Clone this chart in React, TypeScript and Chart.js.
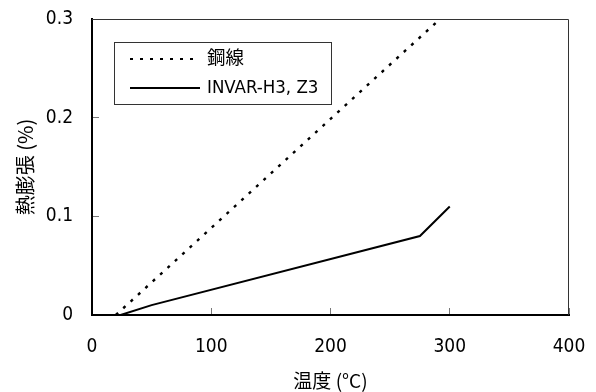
import React, { useEffect, useRef } from "react";
import { Chart, registerables } from "chart.js";

Chart.register(...registerables);

const steelLabel = "鋼線";
const invarLabel = "INVAR-H3, Z3";
const steelTemps = [20, 290];
const steelExpansion = [0, 0.298];
const invarTemps = [24, 50, 275, 300];
const invarExpansion = [0, 0.01, 0.08, 0.11];
const xTitle = "温度 (°C)";
const yTitle = "熱膨張 (%)";

const NARROW = "'Liberation Sans Narrow', 'DejaVu Sans Condensed', 'Arial Narrow', 'Noto Sans CJK JP', sans-serif";
const CJK = "'Noto Sans CJK JP', sans-serif";

export default function App() {
  const ref = useRef<HTMLCanvasElement | null>(null);
  useEffect(() => {
    const canvas = ref.current;
    if (!canvas) return;
    const frame = {
      id: "frame",
      beforeDatasetsDraw(chart: any) {
        const { ctx, chartArea: a } = chart;
        ctx.save();
        ctx.strokeStyle = "#333";
        ctx.lineWidth = 1;
        ctx.beginPath();
        ctx.moveTo(a.left, a.top + 0.5);
        ctx.lineTo(a.right - 0.5, a.top + 0.5);
        ctx.lineTo(a.right - 0.5, a.bottom);
        ctx.stroke();
        ctx.restore();
      },
    };
    const legendBox = {
      id: "legendBox",
      afterDatasetsDraw(chart: any) {
        const { ctx } = chart;
        const x0 = 114, y0 = 42, w = 217, h = 62;
        ctx.save();
        ctx.fillStyle = "#fff";
        ctx.fillRect(x0, y0, w, h);
        ctx.strokeStyle = "#333";
        ctx.lineWidth = 1;
        ctx.strokeRect(x0 + 0.5, y0 + 0.5, w, h);
        const rows = [
          { label: chart.data.datasets[0].label, y: 59, dash: [3, 7], lw: 2.2 },
          { label: chart.data.datasets[1].label, y: 88, dash: [], lw: 2 },
        ];
        rows.forEach((r) => {
          ctx.strokeStyle = "#000";
          ctx.lineWidth = r.lw;
          ctx.setLineDash(r.dash);
          ctx.beginPath();
          ctx.moveTo(130, r.y);
          ctx.lineTo(200, r.y);
          ctx.stroke();
          ctx.setLineDash([]);
          ctx.fillStyle = "#000";
          ctx.font = `18.5px ${NARROW}`;
          ctx.textBaseline = "middle";
          ctx.textAlign = "left";
          ctx.fillText(r.label, 207, r.y);
        });
        ctx.restore();
      },
    };
    const chart = new Chart(canvas, {
      type: "line",
      data: {
        datasets: [
          {
            label: steelLabel,
            data: steelTemps.map((t, i) => ({ x: t, y: steelExpansion[i] })),
            borderColor: "#000",
            borderWidth: 2.4,
            borderDash: [3, 7],
            pointRadius: 0,
            fill: false,
            tension: 0,
          },
          {
            label: invarLabel,
            data: invarTemps.map((t, i) => ({ x: t, y: invarExpansion[i] })),
            borderColor: "#000",
            borderWidth: 2,
            pointRadius: 0,
            fill: false,
            tension: 0,
          },
        ],
      },
      options: {
        responsive: false,
        animation: false,
        layout: { padding: { left: 0, top: 19, right: 27, bottom: 0 } },
        plugins: { legend: { display: false }, tooltip: { enabled: false } },
        scales: {
          x: {
            type: "linear",
            min: 0,
            max: 400,
            afterFit: (s: any) => {
              s.height = 77;
              s.paddingLeft = 0;
              s.paddingRight = 0;
              s.paddingTop = 0;
              s.paddingBottom = 0;
            },
            ticks: {
              stepSize: 100,
              color: "#000",
              padding: 28,
              font: { size: 19, family: NARROW },
              maxRotation: 0,
            },
            grid: { drawOnChartArea: false, drawTicks: true, tickLength: -7, color: "#777", lineWidth: 1 },
            border: { display: true, color: "#000", width: 2 },
            title: {
              display: true,
              text: xTitle,
              color: "#000",
              font: { size: 19, family: CJK },
              padding: { top: 0, bottom: 0 },
            },
          },
          y: {
            type: "linear",
            min: 0,
            max: 0.3,
            afterFit: (s: any) => {
              s.width = 92;
              s.paddingLeft = 0;
              s.paddingRight = 0;
              s.paddingTop = 0;
              s.paddingBottom = 0;
            },
            ticks: {
              stepSize: 0.1,
              color: "#000",
              padding: 26,
              font: { size: 19, family: NARROW },
              callback: (v: any) => (Math.abs(v) < 1e-9 ? "0" : Number(v).toFixed(1)),
            },
            grid: { drawOnChartArea: false, drawTicks: true, tickLength: -7, color: "#777", lineWidth: 1 },
            border: { display: true, color: "#000", width: 2 },
            title: {
              display: true,
              text: yTitle,
              color: "#000",
              font: { size: 20, family: CJK },
              padding: { top: 13, bottom: 0 },
            },
          },
        },
      },
      plugins: [frame, legendBox],
    } as any);
    return () => chart.destroy();
  }, []);
  return (
    <div style={{ position: "fixed", left: 0, top: 0, width: 596, height: 392, background: "#fff" }}>
      <canvas ref={ref} width={596} height={392} style={{ width: 596, height: 392, display: "block" }} />
    </div>
  );
}
